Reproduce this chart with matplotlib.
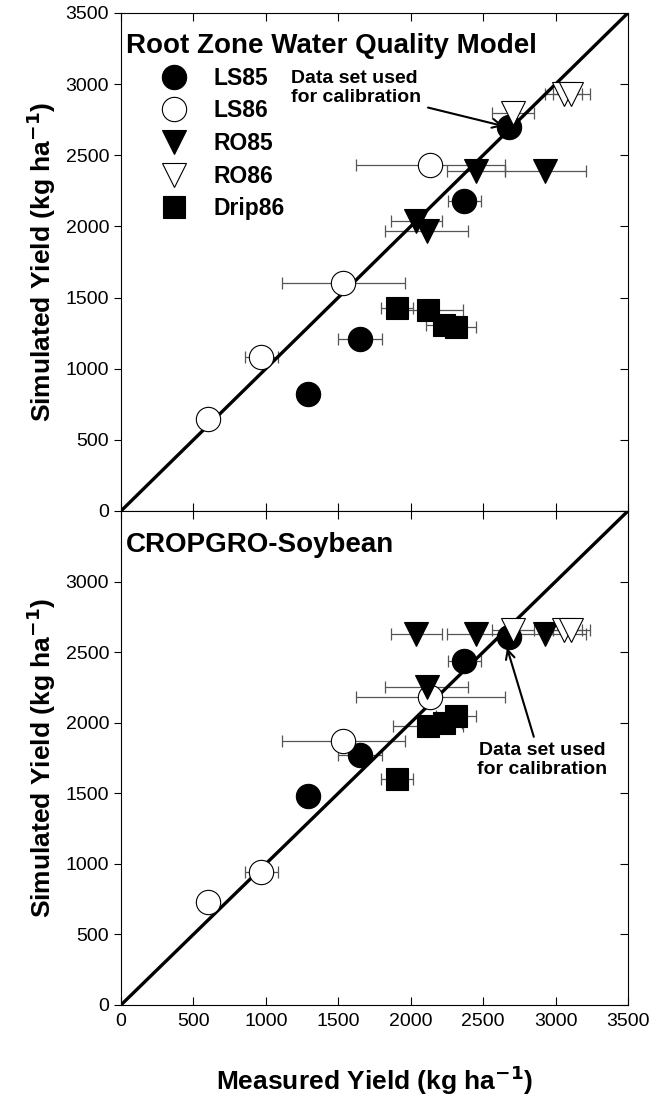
import numpy as np
import matplotlib
import matplotlib.pyplot as plt

matplotlib.use('Agg')
plt.rcParams['font.family'] = ['Liberation Sans', 'DejaVu Sans']

# Measured yields (kg/ha) and their error bars, same for both models
ls85_meas = [2680, 2370, 1650, 1290]
ls85_err = [0, 115, 150, 0]
ls86_meas = [2135, 1535, 970, 598]
ls86_err = [515, 425, 115, 0]
ro85_meas = [2450, 2930, 2040, 2110]
ro85_err = [200, 280, 178, 286]
ro86_meas = [2705, 3055, 3110]
ro86_err = [145, 130, 125]
drip86_meas = [1908, 2118, 2228, 2310]
drip86_err = [110, 240, 125, 138]

# Simulated yields
rzwqm_sim = {
    'LS85': [2700, 2175, 1210, 820],
    'LS86': [2430, 1600, 1085, 645],
    'RO85': [2390, 2390, 2040, 1970],
    'RO86': [2800, 2930, 2930],
    'Drip86': [1425, 1415, 1305, 1290],
}
cropgro_sim = {
    'LS85': [2610, 2440, 1770, 1480],
    'LS86': [2180, 1870, 940, 730],
    'RO85': [2630, 2630, 2630, 2250],
    'RO86': [2660, 2660, 2660],
    'Drip86': [1600, 1980, 1995, 2050],
}

series = [
    ('LS85', ls85_meas, ls85_err, 'o', 'black', 17.5),
    ('LS86', ls86_meas, ls86_err, 'o', 'white', 17.5),
    ('RO85', ro85_meas, ro85_err, 'v', 'black', 17),
    ('RO86', ro86_meas, ro86_err, 'v', 'white', 17),
    ('Drip86', drip86_meas, drip86_err, 's', 'black', 15.5),
]

ticks = [0, 500, 1000, 1500, 2000, 2500, 3000, 3500]

fig = plt.figure(figsize=(6.59, 10.97), dpi=100)
ax1 = fig.add_axes([0.1836, 0.5342, 0.7693, 0.4540])
ax2 = fig.add_axes([0.1836, 0.0839, 0.7693, 0.4503])


def draw_panel(ax, sim):
    ax.plot([0, 3500], [0, 3500], color='black', lw=2.4, zorder=2,
            solid_capstyle='butt')
    for name, meas, err, mk, fc, ms in series:
        ax.errorbar(meas, sim[name], xerr=err, fmt='none', ecolor='#555555',
                    elinewidth=0.9, capsize=4, capthick=0.9, zorder=1)
        ax.plot(meas, sim[name], linestyle='none', marker=mk, ms=ms,
                markerfacecolor=fc, markeredgecolor='black',
                markeredgewidth=0.8, label=name, zorder=3)
    ax.set_xlim(0, 3500)
    ax.set_ylim(0, 3500)
    ax.set_xticks(ticks)
    ax.set_yticks(ticks)
    for s in ax.spines.values():
        s.set_linewidth(0.8)
    ax.tick_params(axis='x', direction='in', top=True, length=6,
                   width=0.8, labelsize=14, pad=6)
    ax.tick_params(axis='y', direction='out', length=5, width=0.8,
                   labelsize=14)
    ax.tick_params(axis='y', which='both', right=False)
    # inward ticks on the right side
    sec = ax.secondary_yaxis('right')
    sec.set_yticks(ticks)
    sec.tick_params(direction='in', length=6, width=0.8, labelright=False)
    sec.spines['right'].set_visible(False)
    ax.set_ylabel('Simulated Yield (kg ha$^{\\mathbf{-1}}$)', fontsize=19,
                  fontweight='bold')
    ax.yaxis.set_label_coords(-0.124, 0.5)


draw_panel(ax1, rzwqm_sim)
draw_panel(ax2, cropgro_sim)

ax1.tick_params(axis='x', labelbottom=False)
ax2.set_yticks(ticks[:-1])

ax1.text(35, 3268, 'Root Zone Water Quality Model', fontsize=20,
         fontweight='bold', va='center')
ax2.text(35, 3262, 'CROPGRO-Soybean', fontsize=20, fontweight='bold',
         va='center')

ax1.legend(loc='upper left', bbox_to_anchor=(0.077, 0.892), frameon=False,
           prop={'size': 16.5, 'weight': 'bold'}, handlelength=1.2,
           handletextpad=1.15, labelspacing=0.42, borderaxespad=0,
           borderpad=0)

# calibration notes with arrows
ax1.text(1175, 2975, 'Data set used\nfor calibration', fontsize=14,
         fontweight='bold', va='center', ha='left', linespacing=1.15)
ax1.annotate('', xy=(2640, 2705), xytext=(2120, 2835),
             arrowprops=dict(arrowstyle='->', lw=1.5, color='black',
                             shrinkA=0, shrinkB=0, mutation_scale=16))
ax2.text(2910, 1735, 'Data set used\nfor calibration', fontsize=14,
         fontweight='bold', va='center', ha='center', linespacing=1.15)
ax2.annotate('', xy=(2665, 2530), xytext=(2850, 1900),
             arrowprops=dict(arrowstyle='->', lw=1.5, color='black',
                             shrinkA=0, shrinkB=0, mutation_scale=16))

ax2.set_xlabel('Measured Yield (kg ha$^{\\mathbf{-1}}$)', fontsize=19,
               fontweight='bold')
ax2.xaxis.set_label_coords(0.5, -0.118)

fig.savefig('out.png', dpi=100)
